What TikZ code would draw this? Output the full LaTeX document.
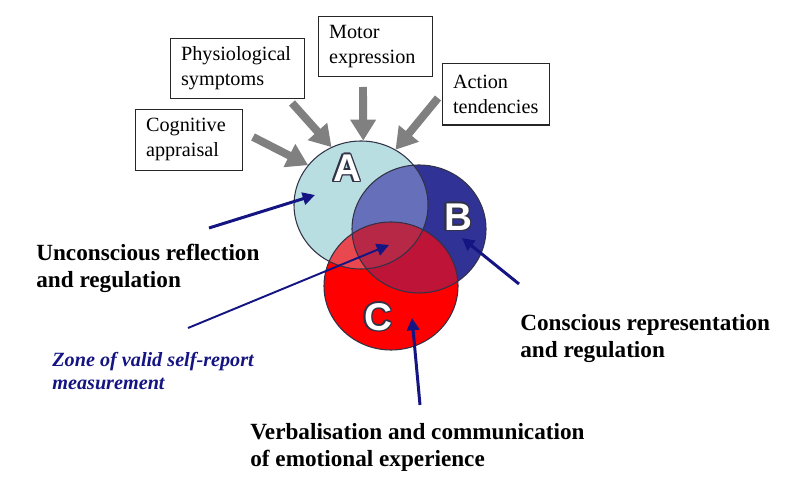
\documentclass[tikz,border=0pt]{standalone}
\usepackage{fontspec}
\setmainfont{Liberation Serif}
\newfontfamily\lettersans{Liberation Sans}
\usetikzlibrary{arrows.meta,shapes.geometric}

\definecolor{ringA}{RGB}{184,222,226}
\definecolor{ringB}{RGB}{48,50,150}
\definecolor{ringAB}{RGB}{102,112,186}
\definecolor{ringC}{RGB}{255,0,0}
\definecolor{ringCA}{RGB}{232,72,78}
\definecolor{ringCB}{RGB}{190,20,56}
\definecolor{ringCAB}{RGB}{182,40,70}
\definecolor{rim}{RGB}{50,50,70}
\definecolor{arrowgray}{RGB}{128,128,128}
\definecolor{navy}{RGB}{20,20,130}

% white letter with a thin dark rim
\newcommand{\rimletter}[1]{\leavevmode
  \rlap{\textcolor{rim}{\kern-.8pt#1}}%
  \rlap{\textcolor{rim}{\kern.8pt#1}}%
  \rlap{\textcolor{rim}{\raisebox{.8pt}{#1}}}%
  \rlap{\textcolor{rim}{\raisebox{-.8pt}{#1}}}%
  \rlap{\textcolor{rim}{\kern-.6pt\raisebox{.6pt}{#1}}}%
  \rlap{\textcolor{rim}{\kern.6pt\raisebox{.6pt}{#1}}}%
  \rlap{\textcolor{rim}{\kern-.6pt\raisebox{-.6pt}{#1}}}%
  \rlap{\textcolor{rim}{\kern.6pt\raisebox{-.6pt}{#1}}}%
  \textcolor{white}{#1}}

\tikzset{
  ring/.style={ellipse, minimum width=2.68cm, minimum height=2.56cm, inner sep=0pt},
  ringpath/.style={insert path={(#1.center) ellipse [x radius=67, y radius=64]}},
  letter/.style={font=\lettersans\bfseries\fontsize{22}{22}\selectfont, inner sep=0pt},
  cause/.style={draw=black!85, line width=0.6pt, anchor=north west, align=left,
    inner xsep=6pt, inner ysep=0pt, font=\fontsize{11.5}{14.2}\selectfont},
  grayarrow/.style={draw=arrowgray, line width=4.5pt, -{Triangle[width=14pt,length=12pt]}},
  navyarrow/.style={draw=navy, line width=1.7pt, -{Triangle[width=7pt,length=7pt]}},
  bigtext/.style={font=\bfseries\fontsize{13.2}{15.8}\selectfont, align=left,
    inner sep=0pt, anchor=base west},
  zonetext/.style={font=\bfseries\itshape\fontsize{11.5}{13.6}\selectfont, text=navy,
    align=left, inner sep=0pt, anchor=base west}
}

\begin{document}
\begin{tikzpicture}[x=0.02cm, y=-0.02cm]
  \useasboundingbox (0,0) rectangle (797,492);

  % circles
  \node[ring] (A) at (361,205) {};
  \node[ring] (B) at (419,229) {};
  \node[ring] (C) at (391,286) {};

  \fill[ringA] [ringpath=A];
  \fill[ringB] [ringpath=B];
  \begin{scope}
    \clip [ringpath=A];
    \fill[ringAB] [ringpath=B];
  \end{scope}
  \fill[ringC] [ringpath=C];
  \begin{scope}
    \clip [ringpath=C];
    \fill[ringCA] [ringpath=A];
    \fill[ringCB] [ringpath=B];
    \clip [ringpath=B];
    \fill[ringCAB] [ringpath=A];
  \end{scope}
  \draw[rim, line width=0.6pt] [ringpath=A];
  \draw[rim, line width=0.6pt] [ringpath=B];
  \draw[rim, line width=0.6pt] [ringpath=C];

  \node[letter] (lblA) at (347,168) {\rimletter{A}};
  \node[letter] (lblB) at (458,217) {\rimletter{B}};
  \node[letter] (lblC) at (378,317) {\rimletter{C}};

  % boxes
  \node[cause, text width=49pt, minimum height=34.6pt] (cog) at (135,109) {Cognitive\\appraisal};
  \node[cause, text width=64.5pt, minimum height=34pt] (phy) at (170,38) {Physiological\\symptoms};
  \node[cause, text width=52.6pt, minimum height=34pt] (mot) at (318,16) {Motor\\expression};
  \node[cause, text width=49pt, minimum height=35pt] (act) at (442,63) {Action\\tendencies};

  % gray arrows
  \coordinate (cogTail) at (253,137);
  \coordinate (phyTail) at (292,103);
  \coordinate (motTail) at (363,87);
  \coordinate (actTail) at (438,98);
  \draw[grayarrow] (cogTail) -- (A.143);
  \draw[grayarrow] (phyTail) -- (A.117);
  \draw[grayarrow] (motTail) -- (A.88);
  \draw[grayarrow] (actTail) -- (A.58);

  % labels (base = last line)
  \node[bigtext] (unc) at (36,288) {Unconscious reflection\\and regulation};
  \node[zonetext] (zone) at (52,390) {Zone of valid self-report\\measurement};
  \node[bigtext] (con) at (520,358) {Conscious representation\\and regulation};
  \node[bigtext] (ver) at (250,467) {Verbalisation and communication\\of emotional experience};

  % blue arrows
  \coordinate (uncTail) at (209,228);
  \coordinate (uncTip) at (315,195);
  \coordinate (zoneTail) at (188,328);
  \coordinate (zoneTip) at (389,245);
  \coordinate (conTail) at (519,284);
  \coordinate (conTip) at (462,238);
  \coordinate (verTail) at (420,405);
  \coordinate (verTip) at (412,318);
  \draw[navyarrow] (uncTail) -- (uncTip);
  \draw[navyarrow, line width=1.1pt] (zoneTail) -- (zoneTip);
  \draw[navyarrow] (conTail) -- (conTip);
  \draw[navyarrow] (verTail) -- (verTip);
\end{tikzpicture}
\end{document}
